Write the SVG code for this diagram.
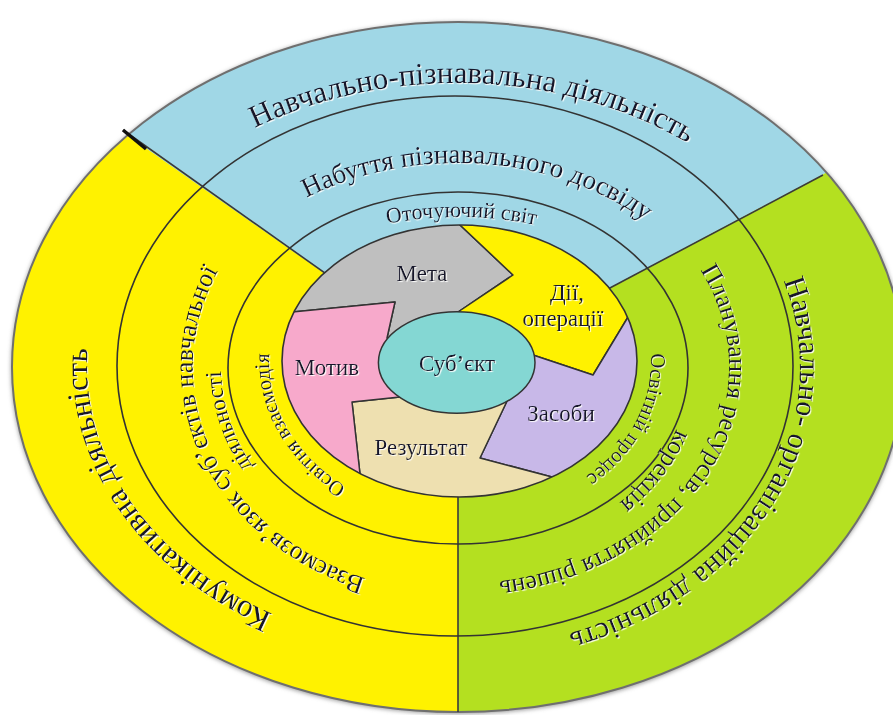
<svg xmlns="http://www.w3.org/2000/svg" width="893" height="715" viewBox="0 0 893 715">
<style>
.t{font-family:"Liberation Serif","Times New Roman",serif;fill:#16162c;filter:url(#halo)}
.ring{fill:none;stroke:#333;stroke-width:1.6}
.div{stroke:#3a3a3a;stroke-width:1.6;fill:none}
.seg{stroke:#333;stroke-width:1.5;stroke-linejoin:round}
.lbl{font-size:23px;text-anchor:middle}
</style>
<defs>
<filter id="halo" x="-10%" y="-30%" width="120%" height="160%"><feDropShadow dx="1.1" dy="1.1" stdDeviation="0.6" flood-color="#ffffff" flood-opacity="0.9"/></filter>
<filter id="blur" x="-5%" y="-5%" width="110%" height="110%"><feGaussianBlur stdDeviation="2"/></filter>
<clipPath id="outerClip"><ellipse cx="458" cy="367" rx="446" ry="345"/></clipPath>
<clipPath id="centerClip"><ellipse cx="459.5" cy="361" rx="177.5" ry="136"/></clipPath>
<path id="pTop1" d="M104.6,270.5 A375,285 0 0 1 815.6,284.7"/>
<path id="pTop2" d="M203.3,297.9 A270,205 0 0 1 721.7,327.5"/>
<path id="pTop3" d="M234.8,315.4 A240,153 0 0 1 685.8,319.9"/>
<path id="pLeft1" d="M495.7,650.4 A370,285 0 0 1 190.9,169"/>
<path id="pRight1" d="M699.5,167.6 A343,282 0 0 1 427.1,647.9"/>
<path id="pLeft2" d="M507.4,587.9 A264,225 0 0 1 321,174.1"/>
<path id="pLeft2b" d="M391.6,557.2 A236,198 0 0 1 293.4,224.3"/>
<path id="pRight2" d="M616.1,191 A272,217 0 0 1 382.9,575.8"/>
<path id="pRight2b" d="M655.5,268.6 A232,190 0 0 1 461.8,557"/>
<path id="pLeft3" d="M435.8,515.8 A190,155 0 0 1 307.3,268.7"/>
<path id="pRight3" d="M606.6,264.2 A192,153 0 0 1 491.4,512.8"/>
</defs>

<g id="bands">
<ellipse cx="458" cy="368" rx="447" ry="346" fill="#9a9a9a" filter="url(#blur)"/>
<g clip-path="url(#outerClip)">
<rect x="0" y="0" width="893" height="715" fill="#fff200"/>
<polygon points="459,368 -213,-104 -213,-200 1185,-200 1185,-18" fill="#a0d7e6"/>
<polygon points="459,368 1185,-18 1185,800 458,800 458,368" fill="#b4e020"/>
</g>
<ellipse cx="458" cy="367" rx="446" ry="345" fill="none" stroke="#6f6f6f" stroke-width="2"/>
</g>

<g id="connectors">
<line class="div" x1="459" y1="368" x2="123" y2="130"/>
<line class="div" x1="459" y1="368" x2="823" y2="175"/>
<line class="div" x1="458" y1="368" x2="458" y2="712"/>
<line x1="123" y1="130" x2="146" y2="149" stroke="#111" stroke-width="3.5"/>
</g>

<g id="rings">
<ellipse class="ring" cx="455" cy="366" rx="338" ry="270"/>
<ellipse class="ring" cx="458" cy="368" rx="230" ry="176"/>
</g>

<g id="center">
<g clip-path="url(#centerClip)">
<path id="meta" class="seg" fill="#bfbfbf" d="M191,322 L395,302 L387,338 L456,362 L458,312 L513,275 L407,175 L300,60 Z"/>
<path id="dii" class="seg" fill="#fff200" d="M407,175 L513,275 L458,312 L456,362 L533,355 L593,375 L625,322 L673,242 L600,60 Z"/>
<path id="zasoby" class="seg" fill="#c8b8e8" d="M673,242 L625,322 L593,375 L533,355 L456,362 L508,399 L480,458 L552,477 L660,505 L760,300 Z"/>
<path id="rezultat" class="seg" fill="#eee0b0" d="M660,505 L552,477 L480,458 L508,399 L456,362 L400,397 L352,402 L360,474 L368,546 L600,600 Z"/>
<path id="motyv" class="seg" fill="#f7a9cb" d="M368,546 L360,474 L352,402 L400,397 L456,362 L387,338 L395,302 L191,322 L200,560 Z"/>
</g>
<ellipse cx="459.5" cy="361" rx="177.5" ry="136" fill="none" stroke="#333" stroke-width="1.6"/>
<ellipse id="subject" cx="456.7" cy="362.5" rx="78.3" ry="50.8" fill="#84d7d3" stroke="#333" stroke-width="1.5"/>
</g>

<g id="labels">
<text class="t" font-size="31"><textPath href="#pTop1" startOffset="51%" text-anchor="middle">Навчально-пізнавальна діяльність</textPath></text>
<text class="t" font-size="27"><textPath href="#pTop2" startOffset="51%" text-anchor="middle">Набуття пізнавального досвіду</textPath></text>
<text class="t" font-size="22"><textPath href="#pTop3" startOffset="50%" text-anchor="middle">Оточуючий світ</textPath></text>
<text class="t" font-size="31.5"><textPath href="#pLeft1" startOffset="51%" text-anchor="middle">Комунікативна діяльність</textPath></text>
<text class="t" font-size="30"><textPath href="#pRight1" startOffset="50%" text-anchor="middle">Навчально- організаційна діяльність</textPath></text>
<text class="t" font-size="26"><textPath href="#pLeft2" startOffset="50%" text-anchor="middle">Взаємозв’язок суб’єктів навчальної</textPath></text>
<text class="t" font-size="23"><textPath href="#pLeft2b" startOffset="50%" text-anchor="middle">діяльності</textPath></text>
<text class="t" font-size="26"><textPath href="#pRight2" startOffset="50%" text-anchor="middle">Планування ресурсів, прийняття рішень</textPath></text>
<text class="t" font-size="26"><textPath href="#pRight2b" startOffset="50%" text-anchor="middle">корекція</textPath></text>
<text class="t" font-size="21"><textPath href="#pLeft3" startOffset="50%" text-anchor="middle">Освітня взаємодія</textPath></text>
<text class="t" font-size="21"><textPath href="#pRight3" startOffset="50%" text-anchor="middle">Освітній процес</textPath></text>
<text class="t lbl" x="422" y="281">Мета</text>
<text class="t lbl" x="567" y="300">Дії,</text>
<text class="t lbl" x="563" y="326">операції</text>
<text class="t lbl" x="327" y="375">Мотив</text>
<text class="t lbl" x="457" y="371">Суб’єкт</text>
<text class="t lbl" x="561" y="421">Засоби</text>
<text class="t lbl" x="421" y="455">Результат</text>
</g>
</svg>
